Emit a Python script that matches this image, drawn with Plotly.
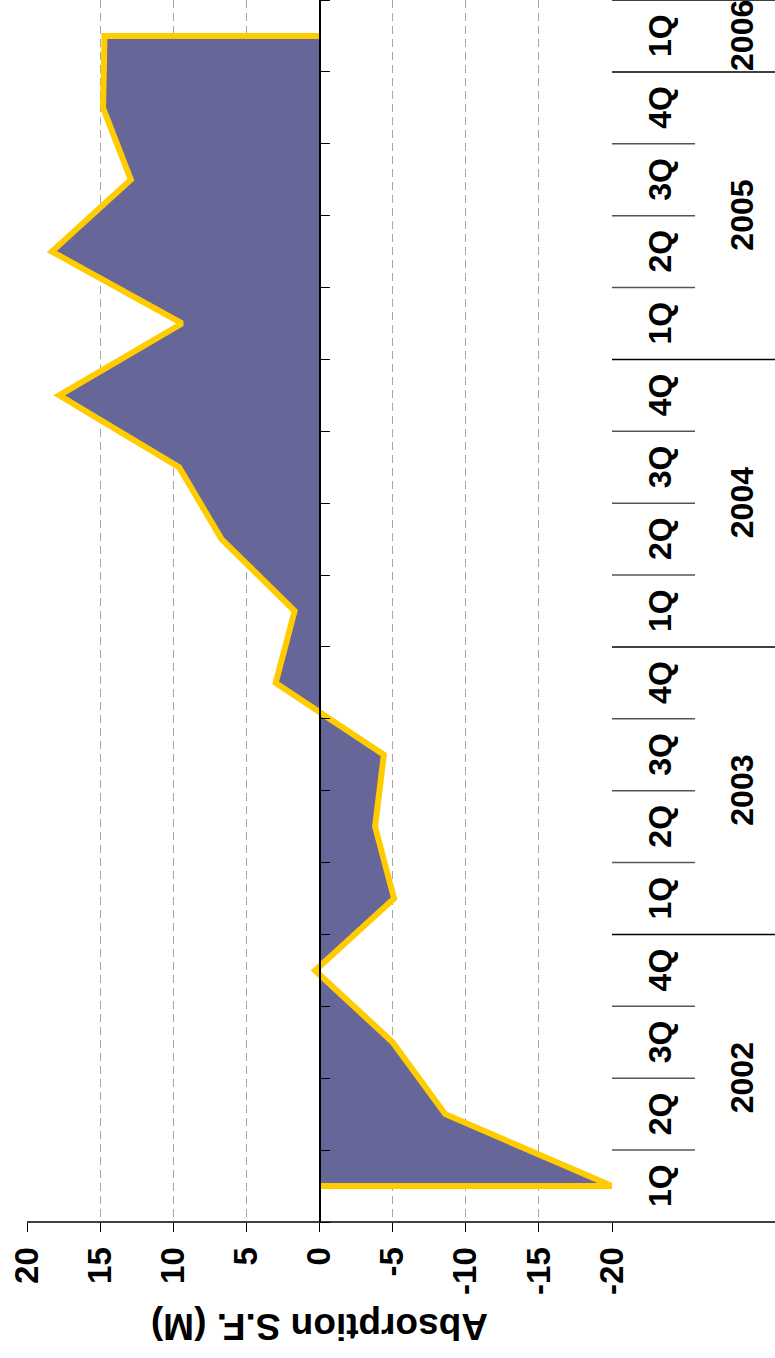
import plotly.graph_objects as go

# quarterly net absorption, millions of sq ft (2002 1Q .. 2006 1Q)
quarters = ["1Q", "2Q", "3Q", "4Q",
            "1Q", "2Q", "3Q", "4Q",
            "1Q", "2Q", "3Q", "4Q",
            "1Q", "2Q", "3Q", "4Q",
            "1Q"]
years = ["2002", "2003", "2004", "2005", "2006"]
year_counts = [4, 4, 4, 4, 1]
absorption = [-20.0, -8.6, -5.0, 0.3,
              -5.1, -3.8, -4.4, 3.0,
              1.7, 6.7, 9.6, 17.8,
              9.4, 18.3, 12.9, 14.8,
              14.7]
value_ticks = [20, 15, 10, 5, 0, -5, -10, -15, -20]
value_tick_text = ["20", "15", "10", "5", "0", "-5", "-10", "-15", "-20"]

W, H = 775, 1358
L, R, T, B = 27, 163, 0, 136
plot_w = W - L - R
plot_h = H - T - B

def px_to_paper_x(px):
    return (px - L) / plot_w

def px_to_paper_y(py):
    return (H - B - py) / plot_h

idx = list(range(len(absorption)))
poly_x = [0] + absorption + [0]
poly_y = [idx[0]] + idx + [idx[-1]]

fig = go.Figure()
fig.add_trace(go.Scatter(
    x=poly_x, y=poly_y,
    mode="lines",
    fill="toself",
    fillcolor="#666699",
    line=dict(color="#FFCC00", width=6),
    hoverinfo="skip",
    showlegend=False,
))

FONT = "Liberation Sans, Arial, sans-serif"
tick_font = dict(family=FONT, size=33, color="black", weight="bold")
quarter_font = dict(family=FONT, size=32, color="black", weight="bold")
year_font = dict(family=FONT, size=32, color="black", weight="bold")

fig.update_layout(
    width=W, height=H,
    margin=dict(l=L, r=R, t=T, b=B),
    plot_bgcolor="white",
    paper_bgcolor="white",
    showlegend=False,
    xaxis=dict(
        range=[20, -20],
        tickvals=value_ticks,
        ticktext=value_tick_text,
        tickangle=-90,
        tickfont=tick_font,
        ticks="outside",
        ticklen=9,
        tickcolor="black",
        tickwidth=1,
        ticklabelstandoff=2,
        showgrid=True,
        gridcolor="#a6a6a6",
        gridwidth=1.2,
        griddash="8px,5px",
        zeroline=False,
        showline=False,
        automargin=False,
    ),
    yaxis=dict(
        range=[-0.5, len(absorption) - 0.5],
        tickvals=[k - 0.5 for k in range(len(absorption) + 1)],
        showticklabels=False,
        ticks="outside",
        ticklen=10,
        tickcolor="black",
        side="right",
        anchor="free",
        position=0.5,
        showgrid=False,
        zeroline=False,
        showline=True,
        linecolor="black",
        linewidth=1.5,
    ),
)

# value axis line, extended under the category labels
right_edge = px_to_paper_x(W)
fig.add_shape(type="line", xref="paper", yref="paper",
              x0=0, x1=right_edge, y0=0, y1=0,
              line=dict(color="black", width=1.5))
fig.add_shape(type="line", xref="paper", yref="paper",
              x0=1, x1=right_edge, y0=1, y1=1,
              line=dict(color="black", width=1.5))

# quarter labels and separators
q_x = px_to_paper_x(680)
short_end = px_to_paper_x(695)
for i, q in enumerate(quarters):
    fig.add_annotation(x=q_x, y=i, xref="paper", yref="y", text=q,
                       textangle=-90, showarrow=False, font=quarter_font)

start = 0
for yr, n in zip(years, year_counts):
    fig.add_annotation(x=px_to_paper_x(762), y=start + (n - 1) / 2,
                       xref="paper", yref="y", text=yr, textangle=-90,
                       showarrow=False, font=year_font)
    for k in range(1, n):
        fig.add_shape(type="line", xref="paper", yref="y",
                      x0=1, x1=short_end, y0=start + k - 0.5, y1=start + k - 0.5,
                      line=dict(color="#555555", width=1.5))
    if start > 0:
        fig.add_shape(type="line", xref="paper", yref="y",
                      x0=1, x1=right_edge, y0=start - 0.5, y1=start - 0.5,
                      line=dict(color="black", width=1.5))
    start += n

fig.add_annotation(x=0.5, y=px_to_paper_y(1349), xref="paper", yref="paper",
                   text="Absorption S.F. (M)", textangle=180, showarrow=False,
                   font=dict(family=FONT, size=37, color="black", weight="bold"))

fig.write_html("out.html", config={"displayModeBar": False},
               post_script="document.body.style.margin='0';")
